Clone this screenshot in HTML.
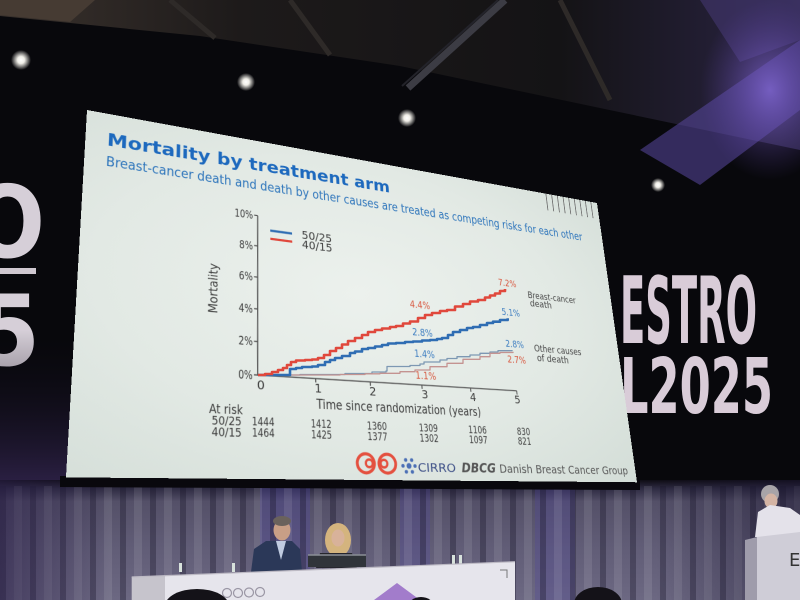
<!DOCTYPE html>
<html>
<head>
<meta charset="utf-8">
<style>
html,body{margin:0;padding:0;width:800px;height:600px;overflow:hidden;background:#08080c;}
#scene{position:absolute;left:0;top:0;}
#slide{position:absolute;left:0;top:0;width:1000px;height:562.5px;transform-origin:0 0;
 transform:matrix3d(0.69968,0.1575,0,0.00031773,-0.05248,0.542969,0,-0.00022949,0,0,1,0,87,110,0,1);
 background:radial-gradient(ellipse at 45% 45%, #ecf1ed 0%, #e2e9e4 55%, #d3ddd7 100%);}
#slide svg{position:absolute;left:0;top:0;}
#over{position:absolute;left:0;top:0;}
</style>
</head>
<body>
<svg id="scene" width="800" height="600" viewBox="0 0 800 600">
 <defs>
  <linearGradient id="ceil" x1="0" y1="0" x2="1" y2="0">
   <stop offset="0" stop-color="#3a322d"/>
   <stop offset="0.3" stop-color="#1d1a1a"/>
   <stop offset="0.7" stop-color="#141315"/>
   <stop offset="1" stop-color="#2a2444"/>
  </linearGradient>
  <radialGradient id="glow">
   <stop offset="0" stop-color="#ffffff"/>
   <stop offset="0.35" stop-color="#f0eee8"/>
   <stop offset="1" stop-color="#f0eee8" stop-opacity="0"/>
  </radialGradient>
  <radialGradient id="pglow">
   <stop offset="0" stop-color="#8a6ee0" stop-opacity="0.7"/>
   <stop offset="1" stop-color="#5a40a0" stop-opacity="0"/>
  </radialGradient>
  <linearGradient id="curt" x1="0" y1="0" x2="0" y2="1">
   <stop offset="0" stop-color="#0e0c14"/>
   <stop offset="0.07" stop-color="#2e2b42"/>
   <stop offset="0.18" stop-color="#545068"/>
   <stop offset="0.6" stop-color="#625e78"/>
   <stop offset="1" stop-color="#6c6882"/>
  </linearGradient>
  <linearGradient id="curtH" x1="0" y1="0" x2="1" y2="0">
   <stop offset="0" stop-color="#2a1f48" stop-opacity="0.6"/>
   <stop offset="0.14" stop-color="#2a1f48" stop-opacity="0"/>
   <stop offset="0.82" stop-color="#1a1530" stop-opacity="0"/>
   <stop offset="1" stop-color="#1a1530" stop-opacity="0.5"/>
  </linearGradient>
  <pattern id="folds" width="30" height="10" patternUnits="userSpaceOnUse">
   <rect x="0" y="0" width="6" height="10" fill="#181428" fill-opacity="0.35"/>
   <rect x="14" y="0" width="8" height="10" fill="#ffffff" fill-opacity="0.09"/>
  </pattern>
  <linearGradient id="leftp" x1="0" y1="0" x2="0" y2="1">
   <stop offset="0" stop-color="#0a0810" stop-opacity="0"/>
   <stop offset="1" stop-color="#2e2248"/>
  </linearGradient>
 </defs>
 <rect width="800" height="600" fill="#08080c"/>
 <polygon points="0,0 800,0 800,150 600,108 400,66 200,36 0,16" fill="url(#ceil)"/>
 <polygon points="0,0 95,0 70,22 0,15" fill="#463b33"/>
 <g stroke="#2e2a28" stroke-width="5">
  <line x1="170" y1="0" x2="215" y2="38"/>
  <line x1="290" y1="0" x2="330" y2="55"/>
  <line x1="560" y1="0" x2="610" y2="100"/>
 </g>
 <line x1="505" y1="0" x2="408" y2="88" stroke="#3c3c44" stroke-width="7"/>
 <line x1="498" y1="0" x2="402" y2="86" stroke="#23232a" stroke-width="2"/>
 <polygon points="640,150 800,40 800,110 700,185" fill="#5a48a0" fill-opacity="0.55"/>
 <polygon points="700,0 800,0 800,40 740,62" fill="#4a3c7c" fill-opacity="0.5"/>
 <ellipse cx="770" cy="90" rx="70" ry="90" fill="url(#pglow)"/>
 <circle cx="21" cy="60" r="10" fill="url(#glow)"/>
 <circle cx="246" cy="82" r="9" fill="url(#glow)"/>
 <circle cx="407" cy="118" r="9" fill="url(#glow)"/>
 <circle cx="658" cy="185" r="7" fill="url(#glow)"/>
 <text x="-30" y="257" font-family="'DejaVu Sans','Liberation Sans',sans-serif" font-size="100" font-weight="bold" fill="#d6cfd8" textLength="75" lengthAdjust="spacingAndGlyphs">O</text>
 <rect x="0" y="268" width="36" height="6" fill="#cfc8d0"/>
 <text x="-22" y="365" font-family="'DejaVu Sans','Liberation Sans',sans-serif" font-size="98" font-weight="bold" fill="#d6cfd8" textLength="62" lengthAdjust="spacingAndGlyphs">5</text>
 <text x="620" y="343" font-family="'DejaVu Sans','Liberation Sans',sans-serif" font-size="93" font-weight="bold" fill="#d9ccd8" textLength="137" lengthAdjust="spacingAndGlyphs">ESTRO</text>
 <text x="620" y="413" font-family="'DejaVu Sans','Liberation Sans',sans-serif" font-size="77" font-weight="bold" fill="#d9ccd8" textLength="153" lengthAdjust="spacingAndGlyphs">L2025</text>
 <rect x="0" y="330" width="70" height="160" fill="url(#leftp)"/>
 <!-- lower curtains -->
 <rect x="0" y="480" width="800" height="120" fill="url(#curt)"/>
 <rect x="260" y="488" width="50" height="112" fill="#4e449a" fill-opacity="0.35"/>
 <rect x="400" y="488" width="30" height="112" fill="#4e449a" fill-opacity="0.3"/>
 <rect x="535" y="488" width="40" height="112" fill="#4e449a" fill-opacity="0.3"/>
 <rect x="0" y="486" width="800" height="114" fill="url(#folds)"/>
 <rect x="0" y="480" width="800" height="120" fill="url(#curtH)"/>
 <polygon points="60,476 640,480 640,490 60,487" fill="#09080d"/>
 <!-- people -->
 <path d="M251,572 L254,549 L266,541 L292,541 L300,549 L302,572 Z" fill="#2b3858"/>
 <path d="M276,541 L286,541 L281,560 Z" fill="#c0cbe0"/>
 <ellipse cx="282" cy="530" rx="8.5" ry="10.5" fill="#c89f86"/>
 <ellipse cx="282" cy="521" rx="9" ry="5" fill="#6a625c"/>
 <ellipse cx="338" cy="540" rx="13" ry="17" fill="#d4b47e"/>
 <ellipse cx="338" cy="538" rx="6.5" ry="8.5" fill="#d8b29a"/>
 <path d="M316,568 L320,553 L352,553 L357,568 Z" fill="#26262e"/>
 <rect x="308" y="555" width="58" height="12" fill="#30343a"/>
 <line x1="308" y1="555" x2="366" y2="555" stroke="#8a8e96" stroke-width="1.5"/>
 <g fill="#d8e2dc">
  <rect x="179" y="563" width="3" height="9"/><rect x="232" y="563" width="3" height="9"/>
  <rect x="452" y="555" width="3" height="9"/><rect x="459" y="555" width="3" height="9"/>
 </g>
 <!-- desk -->
 <polygon points="131.7,577 165,575.7 165,600 131.7,600" fill="#c6c4cc"/>
 <polygon points="165,575.7 515,561.7 515,600 165,600" fill="#e6e5ec"/>
 <line x1="131.7" y1="577" x2="515" y2="561.7" stroke="#bdbac4" stroke-width="1.2"/>
 <path d="M500,570 H507 V578" fill="none" stroke="#777" stroke-width="1"/>
 <polygon points="397,583 420,600 374,600" fill="#a27ccb"/>
 <g fill="none" stroke="#9a96a4" stroke-width="1.2">
  <circle cx="227" cy="593" r="4.5"/><circle cx="238" cy="593" r="4.5"/><circle cx="249" cy="592.5" r="4.5"/><circle cx="260" cy="592" r="4.5"/>
 </g>
 <ellipse cx="197" cy="606" rx="32" ry="17" fill="#141218"/>
 <ellipse cx="421" cy="607" rx="13" ry="10" fill="#141218"/>
 <ellipse cx="598" cy="604" rx="24" ry="17" fill="#141218"/>
 <!-- right speaker & podium -->
 <circle cx="770" cy="494" r="9" fill="#a8a4a8"/>
 <ellipse cx="771" cy="501" rx="6.5" ry="7.5" fill="#d4b4a4"/>
 <path d="M755,537 L758,512 L770,505 L790,508 L800,515 L800,537 Z" fill="#e4e2ea"/>
 <polygon points="745,540 757,537 757,600 745,600" fill="#9f9cab"/>
 <polygon points="757,537 800,532 800,600 757,600" fill="#cfcdd7"/>
 <text x="789" y="566" font-family="'DejaVu Sans','Liberation Sans',sans-serif" font-size="18" fill="#333">E</text>
</svg>

<div id="slide">
<svg width="1000" height="562.5" viewBox="0 0 1000 562.5" font-family="'DejaVu Sans','Liberation Sans',sans-serif">
 <text x="32" y="55" font-size="31" font-weight="bold" fill="#1d69be" textLength="491" lengthAdjust="spacingAndGlyphs">Mortality by treatment arm</text>
 <text x="32" y="90.5" font-size="23" fill="#2c74bb" textLength="917" lengthAdjust="spacingAndGlyphs">Breast-cancer death and death by other causes are treated as competing risks for each other</text>
 <g stroke="#6a6a6a" stroke-width="2">
  <line x1="872" y1="0" x2="872" y2="36"/><line x1="886" y1="0" x2="886" y2="36"/><line x1="900" y1="0" x2="900" y2="36"/>
  <line x1="914" y1="0" x2="914" y2="36"/><line x1="928" y1="0" x2="928" y2="36"/><line x1="942" y1="0" x2="942" y2="36"/>
  <line x1="956" y1="0" x2="956" y2="36"/><line x1="970" y1="0" x2="970" y2="36"/><line x1="984" y1="0" x2="984" y2="36"/>
 </g>
 <g stroke="#555" stroke-width="2" fill="none">
  <path d="M274.8,137.1 L271.9,404.7 L752.5,404.2"/>
  <path d="M268.8,137.1 H274.8 M268.2,190.6 H274.2 M267.6,244.2 H273.6 M267.1,297.7 H273.1 M266.5,351.2 H272.5 M265.9,404.7 H271.9"/>
  <path d="M368,404.5 V411 M464.1,404.4 V411 M560.3,404.4 V411 M656.4,404.3 V411 M752.5,404.2 V411"/>
 </g>
 <g font-size="20" fill="#3c3c3c" text-anchor="end">
  <text x="266.8" y="144.1" textLength="31" lengthAdjust="spacingAndGlyphs">10%</text>
  <text x="266.2" y="197.6" textLength="23" lengthAdjust="spacingAndGlyphs">8%</text>
  <text x="265.6" y="251.2" textLength="23" lengthAdjust="spacingAndGlyphs">6%</text>
  <text x="265.1" y="304.7" textLength="23" lengthAdjust="spacingAndGlyphs">4%</text>
  <text x="264.5" y="358.2" textLength="23" lengthAdjust="spacingAndGlyphs">2%</text>
  <text x="263.9" y="411.7" textLength="23" lengthAdjust="spacingAndGlyphs">0%</text>
 </g>
 <text transform="translate(208,270.5) rotate(-90)" text-anchor="middle" font-size="20" fill="#3c3c3c" textLength="82" lengthAdjust="spacingAndGlyphs">Mortality</text>
 <g font-size="20" fill="#3c3c3c" text-anchor="middle">
  <text x="277" y="427">0</text>
  <text x="372" y="427">1</text>
  <text x="468" y="427">2</text>
  <text x="565" y="427">3</text>
  <text x="660" y="427">4</text>
  <text x="752" y="427">5</text>
 </g>
 <text x="520.5" y="453" text-anchor="middle" font-size="21" fill="#3c3c3c" textLength="305" lengthAdjust="spacingAndGlyphs">Time since randomization (years)</text>
 <line x1="296" y1="160.5" x2="334" y2="160.5" stroke="#2f6db3" stroke-width="4"/>
 <line x1="296" y1="175" x2="334" y2="175" stroke="#e0483c" stroke-width="4"/>
 <text x="351" y="167" font-size="19" fill="#3c3c3c" textLength="55" lengthAdjust="spacingAndGlyphs">50/25</text>
 <text x="351" y="184" font-size="19" fill="#3c3c3c" textLength="55" lengthAdjust="spacingAndGlyphs">40/15</text>
 <g font-size="17" text-anchor="middle">
  <text x="756.6" y="207" fill="#d8573f" textLength="40" lengthAdjust="spacingAndGlyphs">7.2%</text>
  <text x="567.8" y="268" fill="#d8573f" textLength="40" lengthAdjust="spacingAndGlyphs">4.4%</text>
  <text x="757.6" y="264" fill="#3b7cc0" textLength="40" lengthAdjust="spacingAndGlyphs">5.1%</text>
  <text x="568.8" y="318" fill="#3b7cc0" textLength="40" lengthAdjust="spacingAndGlyphs">2.8%</text>
  <text x="758.8" y="324" fill="#3b7cc0" textLength="40" lengthAdjust="spacingAndGlyphs">2.8%</text>
  <text x="569.7" y="356.3" fill="#3b7cc0" textLength="40" lengthAdjust="spacingAndGlyphs">1.4%</text>
  <text x="759.5" y="353.3" fill="#d8573f" textLength="40" lengthAdjust="spacingAndGlyphs">2.7%</text>
  <text x="569.2" y="394.3" fill="#d8573f" textLength="40" lengthAdjust="spacingAndGlyphs">1.1%</text>
 </g>
 <g font-size="17" fill="#444">
  <text x="800" y="225" textLength="112" lengthAdjust="spacingAndGlyphs">Breast-cancer</text>
  <text x="803" y="241" textLength="50" lengthAdjust="spacingAndGlyphs">death</text>
  <text x="801" y="328" textLength="108" lengthAdjust="spacingAndGlyphs">Other causes</text>
  <text x="805" y="346" textLength="72" lengthAdjust="spacingAndGlyphs">of death</text>
 </g>
 <g fill="#3c3c3c">
  <text x="196" y="467" font-size="19" textLength="52" lengthAdjust="spacingAndGlyphs">At risk</text>
  <text x="200" y="484" font-size="18" textLength="46" lengthAdjust="spacingAndGlyphs">50/25</text>
  <text x="200" y="501" font-size="18" textLength="46" lengthAdjust="spacingAndGlyphs">40/15</text>
 </g>
 <g font-size="17" fill="#3c3c3c" text-anchor="middle">
  <text x="280" y="483" textLength="36" lengthAdjust="spacingAndGlyphs">1444</text>
  <text x="375" y="483" textLength="35" lengthAdjust="spacingAndGlyphs">1412</text>
  <text x="472" y="483" textLength="36" lengthAdjust="spacingAndGlyphs">1360</text>
  <text x="567" y="483" textLength="36" lengthAdjust="spacingAndGlyphs">1309</text>
  <text x="663" y="483" textLength="37" lengthAdjust="spacingAndGlyphs">1106</text>
  <text x="758" y="483" textLength="28" lengthAdjust="spacingAndGlyphs">830</text>
  <text x="280" y="500" textLength="36" lengthAdjust="spacingAndGlyphs">1464</text>
  <text x="375" y="500" textLength="35" lengthAdjust="spacingAndGlyphs">1425</text>
  <text x="472" y="500" textLength="36" lengthAdjust="spacingAndGlyphs">1377</text>
  <text x="567" y="500" textLength="36" lengthAdjust="spacingAndGlyphs">1302</text>
  <text x="663" y="500" textLength="37" lengthAdjust="spacingAndGlyphs">1097</text>
  <text x="758" y="500" textLength="28" lengthAdjust="spacingAndGlyphs">821</text>
 </g>
 <g fill="none" stroke="#e4503f" stroke-width="5">
  <circle cx="449" cy="537" r="15"/><circle cx="487" cy="537" r="15"/>
  <circle cx="455" cy="537" r="6" stroke-width="4"/><circle cx="481" cy="537" r="6" stroke-width="4"/>
 </g>
 <g fill="#4b6fb5">
  <circle cx="526" cy="540" r="4.5"/>
  <circle cx="537" cy="540" r="3"/><circle cx="531.5" cy="549.5" r="3"/><circle cx="520.5" cy="549.5" r="3"/>
  <circle cx="515" cy="540" r="3"/><circle cx="520.5" cy="530.5" r="3"/><circle cx="531.5" cy="530.5" r="3"/>
 </g>
 <text x="542" y="549" font-size="19" fill="#3c4e86" textLength="72" lengthAdjust="spacingAndGlyphs">CIRRO</text>
 <text x="625" y="549" font-size="21" font-style="italic" font-weight="bold" fill="#555" textLength="68" lengthAdjust="spacingAndGlyphs">DBCG</text>
 <text x="700" y="549" font-size="20" fill="#555" textLength="282" lengthAdjust="spacingAndGlyphs">Danish Breast Cancer Group</text>
</svg>
</div>

<svg id="over" width="800" height="600" viewBox="0 0 800 600">
 <g fill="none" stroke-linejoin="round">
  <path stroke="#7d98b3" stroke-width="1.3" d="M258,375 H300 V374.5 H345 V373.5 H372 V372 H386 V371 H387 V366.5 H410 V365.5 H420 V364 H424 V362 H440 V360 H447 V358.5 H457 V356.7 H470 V355 H480 V353.3 H490 V352 H498 V350.7 H512 V350"/>
  <path stroke="#c49391" stroke-width="1.3" d="M258,375 H300 V375 H340 V374.5 H365 V373.8 H380 V373.3 H400 V371.7 H415 V370 H430 V366.7 H447 V363.3 H463 V359.3 H480 V356.7 H490 V353.3 H500 V352.5 H513 V351.7"/>
  <path stroke="#2f6db3" stroke-width="2.6" d="M258,375 H290 V369 H296 V368 H302 V367 H312 V366.5 H318 V365 H325 V362 H330 V360 H335 V358 H342 V356 H350 V353 H355 V351.5 H362 V349 H368 V348 H375 V346.5 H382 V345 H388 V343.5 H396 V343 H405 V342 H413 V341.5 H422 V340.5 H430 V340 H437 V339 H442 V338 H448 V335 H453 V332 H460 V330 H467 V328 H473 V327 H480 V325 H487 V323 H493 V321.7 H500 V320 H507.7 V318.3"/>
  <path stroke="#e0483c" stroke-width="2.6" d="M258,375 H265 V374 H272 V372 H278 V370 H283 V368 H287 V365 H291 V362 H296 V360.5 H305 V360 H312 V359.5 H318 V358 H324 V355 H330 V351 H336 V348 H342 V344.5 H348 V341 H355 V338 H362 V335 H368 V332 H375 V330 H382 V328.5 H390 V327 H396 V326 H403 V323.5 H410 V321.5 H418 V318 H425 V315 H432 V313 H440 V311 H447 V310 H455 V306.5 H463 V304 H470 V301.5 H478 V300 H485 V297.5 H490 V295.5 H495 V293.5 H500 V291 H505 V289"/>
 </g>
</svg>
</body>
</html>
